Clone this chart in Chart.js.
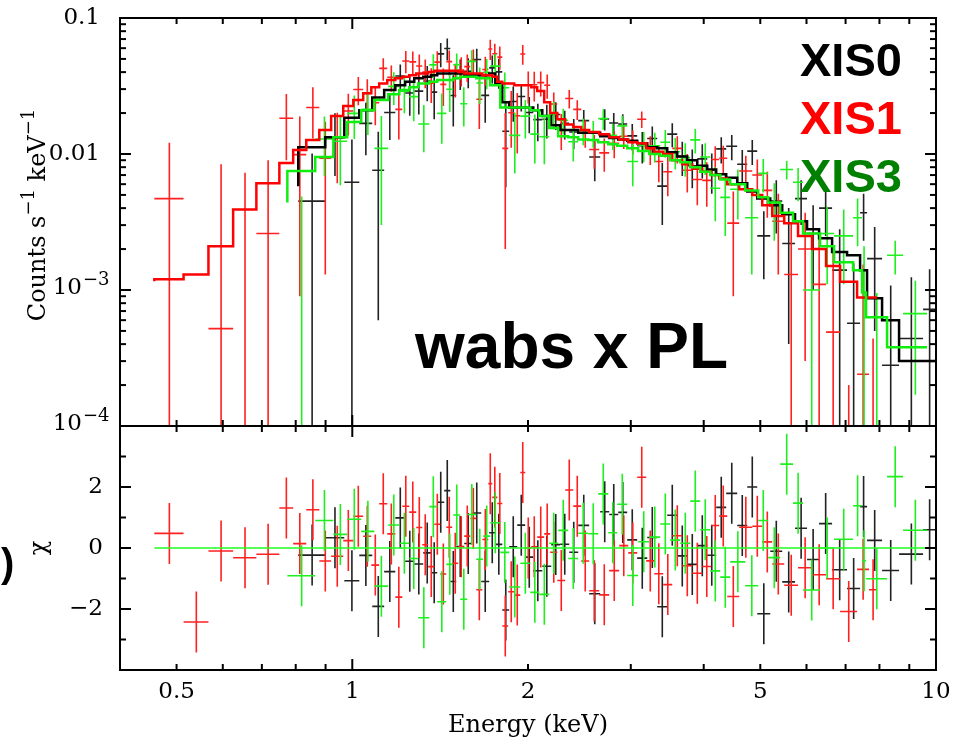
<!DOCTYPE html>
<html>
<head>
<meta charset="utf-8">
<script src="https://cdn.jsdelivr.net/npm/chart.js@4.4.0/dist/chart.umd.min.js"></script>
<style>
  html, body { margin: 0; padding: 0; background: #fff; }
  #wrap { position: relative; width: 960px; height: 739px; overflow: hidden; }
  #specCanvas { position: absolute; left: 0; top: 0; }
  #chiCanvas { position: absolute; left: 0; top: 420px; }
</style>
</head>
<body>
<div id="wrap">
  <canvas id="specCanvas" width="960" height="440"></canvas>
  <canvas id="chiCanvas" width="960" height="319"></canvas>
</div>
<script>
// XIS0 spectrum: bin edges (keV), rate (counts/s/keV), 1-sigma error, folded model
const xis0Edges = [0.808, 0.899, 0.969, 1.028, 1.082, 1.134, 1.185, 1.232, 1.277, 1.323, 1.365, 1.398, 1.437, 1.472, 1.507, 1.555, 1.605, 1.663, 1.716, 1.758, 1.807, 1.857, 1.917, 1.978, 2.042, 2.116, 2.192, 2.271, 2.353, 2.438, 2.546, 2.659, 2.755, 2.855, 2.958, 3.077, 3.201, 3.330, 3.464, 3.603, 3.748, 3.899, 4.056, 4.202, 4.371, 4.565, 4.749, 4.940, 5.200, 5.452, 5.735, 6.013, 6.305, 6.637, 7.041, 7.412, 7.619, 8.084, 8.644, 9.503, 10.0];
const xis0Rate = [4.5e-3, 0.0134, 0.0062, 0.0168, 0.0076, 0.0202, 0.0375, 0.0281, 0.0290, 0.0344, 0.0285, 0.0545, 0.0597, 0.0269, 0.0395, 0.0405, 0.0495, 0.0270, 0.0430, 0.0402, 0.0147, 0.0243, 0.0265, 0.0202, 0.0179, 0.0180, 0.0195, 0.0168, 0.0145, 0.0176, 0.0095, 0.0181, 0.0169, 0.0166, 0.0136, 0.0115, 0.0130, 0.0058, 0.0140, 0.0096, 0.0082, 0.0092, 0.0076, 0.0109, 0.0114, 0.0084, 0.0105, 0.0025, 0.0045, 0.0022, 0.0047, 0.0026, 0.0040, 0.0014, 0.00057, 0.0037, 0.0017, 0.00028, 0.00044, 0.00072];
const xis0Err = [5.6e-3, 6.5e-3, 6.6e-3, 7e-3, 7e-3, 7.5e-3, 8e-3, 9e-3, 9.5e-3, 1e-2, 1.05e-2, 1.1e-2, 1.1e-2, 1.1e-2, 1e-2, 1e-2, 1e-2, 1e-2, 1e-2, 1e-2, 9e-3, 7e-3, 6e-3, 6e-3, 5.5e-3, 5e-3, 4.5e-3, 4e-3, 3.6e-3, 3.5e-3, 3.2e-3, 3.2e-3, 3.1e-3, 3e-3, 3e-3, 3e-3, 2.9e-3, 2.8e-3, 2.8e-3, 2.7e-3, 2.6e-3, 2.6e-3, 2.5e-3, 2.4e-3, 2.4e-3, 2.3e-3, 2.2e-3, 1.3e-3, 1.9e-3, 1.8e-3, 1.7e-3, 1.6e-3, 1.5e-3, 1.4e-3, 1.0e-3, 1.4e-3, 1.2e-3, 8e-4, 8e-4, 7e-4];
const xis0Model = [5.8e-3, 0.0112, 0.0133, 0.0185, 0.021, 0.026, 0.0296, 0.032, 0.034, 0.036, 0.037, 0.038, 0.039, 0.039, 0.039, 0.039, 0.038, 0.038, 0.038, 0.039, 0.033, 0.024, 0.022, 0.022, 0.022, 0.021, 0.019, 0.0163, 0.015, 0.015, 0.0143, 0.0143, 0.0135, 0.0131, 0.0128, 0.0125, 0.0120, 0.0112, 0.0110, 0.0103, 0.0096, 0.0090, 0.0082, 0.0077, 0.0071, 0.0067, 0.0061, 0.0053, 0.0047, 0.0042, 0.0036, 0.0032, 0.0028, 0.0024, 0.0019, 0.0018, 0.0014, 0.00087, 0.0006, 0.0003];

// XIS1 spectrum
const xis1Edges = [0.458, 0.514, 0.567, 0.625, 0.685, 0.750, 0.792, 0.834, 0.878, 0.920, 0.965, 1.004, 1.044, 1.078, 1.112, 1.148, 1.185, 1.218, 1.252, 1.287, 1.318, 1.349, 1.382, 1.415, 1.449, 1.483, 1.519, 1.555, 1.593, 1.631, 1.670, 1.710, 1.737, 1.772, 1.807, 1.850, 1.894, 1.940, 1.978, 2.026, 2.074, 2.132, 2.183, 2.245, 2.316, 2.391, 2.467, 2.546, 2.649, 2.755, 2.866, 2.970, 3.077, 3.188, 3.291, 3.410, 3.533, 3.675, 3.823, 3.977, 4.120, 4.252, 4.389, 4.601, 4.844, 5.039, 5.241, 5.495, 5.803, 6.133, 6.481, 6.850, 7.325, 7.679, 7.926];
const xis1Rate = [4.7e-3, -1.47e-3, 5.2e-4, -3.3e-4, 2.6e-3, 0.0183, 0.0099, 0.0220, 0.0093, 0.0131, 0.0207, 0.0298, 0.0279, 0.0238, 0.0426, 0.0367, 0.0213, 0.0483, 0.0476, 0.0444, 0.0400, 0.0332, 0.0474, 0.0325, 0.0478, 0.0360, 0.0414, 0.0439, 0.0487, 0.0253, 0.0418, 0.0591, 0.0546, 0.0516, 0.0110, 0.0201, 0.0191, 0.0543, 0.0320, 0.0323, 0.0335, 0.0320, 0.0233, 0.0152, 0.0256, 0.0213, 0.0144, 0.0108, 0.0102, 0.0120, 0.0135, 0.0124, 0.0180, 0.0109, 0.0088, 0.0074, 0.0110, 0.0076, 0.0065, 0.0064, 0.0091, 0.0093, 0.0031, 0.0075, 0.0070, 0.0054, 0.0032, 0.0013, 0.0020, 0.0011, 0.00049, -0.0010, 0.00024, -0.00076];
const xis1Err = [7.4e-3, 1.1e-3, 7.9e-3, 7.6e-3, 6.4e-3, 9.3e-3, 9.0e-3, 9.0e-3, 8.0e-3, 7.0e-3, 7.0e-3, 7.0e-3, 7.5e-3, 7.5e-3, 8e-3, 8e-3, 8.5e-3, 9e-3, 9e-3, 9.5e-3, 9.5e-3, 9.5e-3, 9.5e-3, 1e-2, 1e-2, 1e-2, 1e-2, 1e-2, 1e-2, 1e-2, 1e-2, 1e-2, 1e-2, 1e-2, 9e-3, 9e-3, 9e-3, 9e-3, 8.5e-3, 8e-3, 7e-3, 6.5e-3, 5e-3, 4.5e-3, 4e-3, 3.5e-3, 3.3e-3, 3e-3, 2.8e-3, 2.7e-3, 2.6e-3, 2.5e-3, 2.5e-3, 2.6e-3, 2.6e-3, 2.5e-3, 2.5e-3, 2.4e-3, 2.3e-3, 2.3e-3, 2.3e-3, 2.2e-3, 2.2e-3, 2.2e-3, 2.1e-3, 2.0e-3, 1.9e-3, 1.8e-3, 1.7e-3, 1.6e-3, 1.5e-3, 1.2e-3, 1.3e-3, 1.2e-3];
const xis1Model = [1.16e-3, 1.2e-3, 1.3e-3, 2.1e-3, 3.9e-3, 6.1e-3, 8.6e-3, 0.0107, 0.0127, 0.015, 0.019, 0.0225, 0.025, 0.028, 0.031, 0.033, 0.035, 0.036, 0.037, 0.038, 0.039, 0.039, 0.040, 0.041, 0.041, 0.041, 0.041, 0.040, 0.039, 0.039, 0.039, 0.038, 0.038, 0.037, 0.034, 0.033, 0.033, 0.032, 0.032, 0.032, 0.031, 0.029, 0.024, 0.020, 0.018, 0.0165, 0.0158, 0.0150, 0.0145, 0.0140, 0.0133, 0.0128, 0.0122, 0.0120, 0.0110, 0.0104, 0.0100, 0.0090, 0.0084, 0.0078, 0.0074, 0.0070, 0.0066, 0.0060, 0.0055, 0.0050, 0.0042, 0.0035, 0.0031, 0.0025, 0.0020, 0.0015, 0.00115, 0.00088];

// XIS3 spectrum
const xis3Edges = [0.774, 0.864, 0.928, 0.980, 1.036, 1.091, 1.152, 1.204, 1.252, 1.297, 1.355, 1.398, 1.449, 1.489, 1.531, 1.574, 1.631, 1.676, 1.723, 1.793, 1.857, 1.940, 2.018, 2.091, 2.175, 2.253, 2.344, 2.438, 2.536, 2.638, 2.745, 2.844, 2.958, 3.089, 3.226, 3.370, 3.505, 3.646, 3.793, 3.945, 4.104, 4.269, 4.441, 4.712, 4.959, 5.159, 5.409, 5.690, 5.919, 6.330, 6.689, 7.210, 7.470, 7.589, 8.245, 8.782, 9.654];
const xis3Rate = [-3.3e-4, 0.0129, 0.0124, 0.0199, 0.0213, 0.0110, 0.0314, 0.0289, 0.0264, 0.0166, 0.0452, 0.0199, 0.0299, 0.0453, 0.0234, 0.0480, 0.0333, 0.0399, 0.0443, 0.0307, 0.0137, 0.0190, 0.0140, 0.0134, 0.0197, 0.0177, 0.0123, 0.0149, 0.0143, 0.0182, 0.0137, 0.0161, 0.0088, 0.0116, 0.0115, 0.0122, 0.0104, 0.0094, 0.0127, 0.0095, 0.0056, 0.0048, 0.0055, 0.0034, 0.0072, 0.0042, 0.0077, 0.0062, 0.0010, 0.0026, 0.0025, 0.0034, 0.0009, -0.00005, 0.0018, 0.00067];
const xis3Err = [5.2e-3, 6e-3, 6.5e-3, 7e-3, 7.5e-3, 8e-3, 8.5e-3, 9e-3, 9e-3, 6.3e-3, 9e-3, 8e-3, 9.5e-3, 9.5e-3, 7.5e-3, 1e-2, 1e-2, 1e-2, 1e-2, 9e-3, 6.5e-3, 6e-3, 5.5e-3, 5e-3, 4.5e-3, 3.8e-3, 3.5e-3, 3.3e-3, 3.2e-3, 3.1e-3, 3e-3, 3e-3, 3e-3, 2.9e-3, 2.8e-3, 2.8e-3, 2.7e-3, 2.6e-3, 2.6e-3, 2.5e-3, 2.4e-3, 2.3e-3, 2.2e-3, 2.1e-3, 2e-3, 1.9e-3, 1.2e-3, 1.7e-3, 1.6e-3, 1.5e-3, 1.4e-3, 1.3e-3, 1.2e-3, 1e-3, 5e-4, 5e-4];
const xis3Model = [4.4e-3, 7.5e-3, 9.5e-3, 0.0133, 0.0172, 0.021, 0.025, 0.0275, 0.0295, 0.031, 0.033, 0.034, 0.035, 0.035, 0.036, 0.037, 0.037, 0.036, 0.036, 0.032, 0.022, 0.022, 0.022, 0.021, 0.019, 0.0155, 0.0135, 0.0133, 0.0128, 0.0127, 0.0122, 0.0118, 0.0115, 0.0110, 0.0105, 0.0100, 0.0097, 0.0090, 0.0087, 0.0080, 0.0074, 0.0070, 0.0065, 0.0060, 0.0054, 0.0048, 0.0044, 0.0037, 0.0032, 0.0026, 0.0021, 0.0016, 0.0014, 0.00096, 0.00063, 0.00038];

// axis ticks and labels
const energyMajorTicks = [1, 10];
const energyMinorTicks = [0.5, 0.6, 0.7, 0.8, 0.9, 2, 3, 4, 5, 6, 7, 8, 9];
const energyLabelValues = [0.5, 1, 2, 5, 10];
const energyTickLabels = ['0.5', '1', '2', '5', '10'];
const countMajorTicks = [1e-4, 1e-3, 0.01, 0.1];
const countTickLabels = [['10', '−4'], ['10', '−3'], ['0.01', ''], ['0.1', '']];
const chiMajorTicks = [-2, 0, 2];
const chiMinorTicks = [-3, -1, 1, 3];
const chiTickLabels = ['−2', '0', '2'];

const countMinorTicks = [];
countMajorTicks.slice(0, -1).forEach(d => {
    for (let k = 2; k <= 9; k++) countMinorTicks.push(d * k);
});

const instruments = [
    { name: 'XIS0', edges: xis0Edges, rate: xis0Rate, err: xis0Err, model: xis0Model, line: '#000000', bar: '#222222', text: '#000000', order: 2 },
    { name: 'XIS1', edges: xis1Edges, rate: xis1Rate, err: xis1Err, model: xis1Model, line: '#ff0000', bar: '#ff2020', text: '#ff0000', order: 1 },
    { name: 'XIS3', edges: xis3Edges, rate: xis3Rate, err: xis3Err, model: xis3Model, line: '#10ee10', bar: '#1fef1f', text: '#008000', order: 0 }
];

const SERIF = '"DejaVu Serif", serif';
const SANS = '"Liberation Sans", Arial, sans-serif';

// one cross per bin: horizontal = bin width, vertical = +/- error
function binPoints(inst) {
    return inst.rate.map((r, i) => {
        const lo = inst.edges[i], hi = inst.edges[i + 1];
        return { x: (lo + hi) / 2, y: r, lo: lo, hi: hi, err: inst.err[i] };
    });
}

// residuals in units of sigma, error bars of one sigma
function chiPoints(inst) {
    return inst.rate.map((r, i) => {
        const lo = inst.edges[i], hi = inst.edges[i + 1];
        return { x: (lo + hi) / 2, y: (r - inst.model[i]) / inst.err[i], lo: lo, hi: hi, err: 1 };
    });
}

// histogram of the folded model
function stepPoints(inst) {
    const pts = inst.model.map((m, i) => ({ x: inst.edges[i], y: m }));
    pts.push({ x: inst.edges[inst.edges.length - 1], y: inst.model[inst.model.length - 1] });
    return pts;
}

const errorBarPlugin = {
    id: 'errorBars',
    beforeDatasetsDraw(chart) {
        const { ctx, chartArea: a, scales: { x, y } } = chart;
        const isLog = y.type === 'logarithmic';
        ctx.save();
        ctx.beginPath();
        ctx.rect(a.left, a.top, a.right - a.left, a.bottom - a.top);
        ctx.clip();
        ctx.lineWidth = 1.6;
        chart.data.datasets.forEach(ds => {
            if (!ds.errorBars) return;
            ctx.strokeStyle = ds.barColor;
            ds.data.forEach(p => {
                const up = p.y + p.err, down = p.y - p.err;
                if (isLog && up <= 0) return;
                const px = x.getPixelForValue(p.x);
                const yUp = y.getPixelForValue(up);
                const yDown = (!isLog || down > 0) ? y.getPixelForValue(down) : a.bottom + 4;
                ctx.beginPath();
                ctx.moveTo(px, yUp);
                ctx.lineTo(px, yDown);
                if (!isLog || p.y > 0) {
                    const py = y.getPixelForValue(p.y);
                    ctx.moveTo(x.getPixelForValue(p.lo), py);
                    ctx.lineTo(x.getPixelForValue(p.hi), py);
                }
                ctx.stroke();
            });
        });
        ctx.restore();
    }
};

// box round the plot with inward ticks on all four sides
const framePlugin = {
    id: 'frame',
    afterDatasetsDraw(chart, args, opts) {
        const { ctx, chartArea: a, scales: { x, y } } = chart;
        ctx.save();
        ctx.strokeStyle = '#000';
        ctx.lineWidth = 2;
        ctx.strokeRect(a.left, a.top, a.right - a.left, a.bottom - a.top);
        const seg = (x1, y1, x2, y2) => {
            ctx.beginPath();
            ctx.moveTo(x1, y1);
            ctx.lineTo(x2, y2);
            ctx.stroke();
        };
        const xTicks = (vals, len) => vals.forEach(v => {
            const px = x.getPixelForValue(v);
            seg(px, a.top, px, a.top + len);
            seg(px, a.bottom, px, a.bottom - len);
        });
        const yTicks = (vals, len) => vals.forEach(v => {
            const py = y.getPixelForValue(v);
            seg(a.left, py, a.left + len, py);
            seg(a.right, py, a.right - len, py);
        });
        xTicks(energyMajorTicks, 11);
        xTicks(energyMinorTicks, 6);
        yTicks(opts.yMajor, 11);
        yTicks(opts.yMinor, 6);
        ctx.restore();
    }
};

const specTextPlugin = {
    id: 'specText',
    afterDraw(chart) {
        const { ctx, chartArea: a, scales: { y } } = chart;
        ctx.save();
        ctx.fillStyle = '#000';
        ctx.textBaseline = 'middle';
        countMajorTicks.forEach((v, i) => {
            const py = y.getPixelForValue(v);
            const [base, exp] = countTickLabels[i];
            ctx.font = '23px ' + SERIF;
            if (!exp) {
                ctx.textAlign = 'right';
                ctx.fillText(base, a.left - 20, py);
            } else {
                ctx.textAlign = 'right';
                ctx.fillText(base, a.left - 38, py - 2);
                ctx.font = '18px ' + SERIF;
                ctx.textAlign = 'left';
                ctx.fillText(exp, a.left - 37, py - 10);
            }
        });

        // rotated y title with superscripts
        ctx.save();
        ctx.translate(45, (a.top + a.bottom) / 2 - 7);
        ctx.rotate(-Math.PI / 2);
        ctx.textBaseline = 'alphabetic';
        ctx.textAlign = 'left';
        const parts = [['Counts s', 24, 0], ['−1', 18, -11], [' keV', 24, 0], ['−1', 18, -11]];
        let total = 0;
        parts.forEach(p => { ctx.font = p[1] + 'px ' + SERIF; total += ctx.measureText(p[0]).width; });
        let cx = -total / 2;
        parts.forEach(p => {
            ctx.font = p[1] + 'px ' + SERIF;
            ctx.fillText(p[0], cx, p[2]);
            cx += ctx.measureText(p[0]).width;
        });
        ctx.restore();

        // model name and instrument labels
        ctx.textBaseline = 'alphabetic';
        ctx.textAlign = 'left';
        ctx.font = 'bold 64px ' + SANS;
        ctx.fillStyle = '#000';
        ctx.fillText('wabs x PL', 415, 368);
        ctx.font = 'bold 47px ' + SANS;
        instruments.forEach((inst, i) => {
            ctx.fillStyle = inst.text;
            ctx.fillText(inst.name, 800, 76 + i * 58);
        });
        ctx.restore();
    }
};

const chiTextPlugin = {
    id: 'chiText',
    afterDraw(chart) {
        const { ctx, chartArea: a, scales: { x, y } } = chart;
        ctx.save();
        ctx.fillStyle = '#000';
        ctx.font = '23px ' + SERIF;
        ctx.textBaseline = 'middle';
        ctx.textAlign = 'right';
        chiMajorTicks.forEach((v, i) => ctx.fillText(chiTickLabels[i], a.left - 17, y.getPixelForValue(v)));
        ctx.textAlign = 'center';
        energyLabelValues.forEach((v, i) => ctx.fillText(energyTickLabels[i], x.getPixelForValue(v), a.bottom + 22));
        ctx.font = '24px ' + SERIF;
        ctx.textBaseline = 'alphabetic';
        ctx.fillText('Energy (keV)', (a.left + a.right) / 2, a.bottom + 62);

        ctx.save();
        ctx.translate(46, (a.top + a.bottom) / 2);
        ctx.rotate(-Math.PI / 2);
        ctx.textAlign = 'center';
        ctx.fillText('χ', 0, 0);
        ctx.restore();

        ctx.font = 'bold 40px ' + SANS;
        ctx.textAlign = 'left';
        ctx.textBaseline = 'middle';
        ctx.fillText(')', 1, 146);
        ctx.restore();
    }
};

// upper panel: spectra and models
const specDatasets = [];
instruments.forEach(inst => {
    specDatasets.push({
        label: inst.name + ' model',
        data: stepPoints(inst),
        showLine: true,
        stepped: 'after',
        borderColor: inst.line,
        borderWidth: 2.5,
        pointRadius: 0,
        fill: false,
        order: inst.order
    });
    specDatasets.push({
        label: inst.name,
        data: binPoints(inst),
        pointRadius: 0,
        errorBars: true,
        barColor: inst.bar,
        order: inst.order + 3
    });
});

const specChart = new Chart(document.getElementById('specCanvas'), {
    type: 'scatter',
    data: { datasets: specDatasets },
    options: {
        responsive: false,
        animation: false,
        devicePixelRatio: 1,
        events: [],
        layout: { padding: { left: 120, right: 24, top: 18, bottom: 14 } },
        scales: {
            x: { type: 'logarithmic', min: 0.4, max: 10, display: false },
            y: { type: 'logarithmic', min: 1e-4, max: 0.1, display: false }
        },
        plugins: {
            legend: { display: false },
            tooltip: { enabled: false },
            frame: { yMajor: countMajorTicks, yMinor: countMinorTicks }
        }
    },
    plugins: [errorBarPlugin, framePlugin, specTextPlugin]
});

// lower panel: residuals
const chiDatasets = [{
    label: 'zero',
    data: [{ x: xis1Edges[0], y: 0 }, { x: 10, y: 0 }],
    showLine: true,
    borderColor: '#22ff22',
    borderWidth: 1.5,
    pointRadius: 0
}];
instruments.forEach(inst => {
    chiDatasets.push({
        label: inst.name,
        data: chiPoints(inst),
        pointRadius: 0,
        errorBars: true,
        barColor: inst.bar
    });
});

const chiChart = new Chart(document.getElementById('chiCanvas'), {
    type: 'scatter',
    data: { datasets: chiDatasets },
    options: {
        responsive: false,
        animation: false,
        devicePixelRatio: 1,
        events: [],
        layout: { padding: { left: 120, right: 24, top: 6, bottom: 69 } },
        scales: {
            x: { type: 'logarithmic', min: 0.4, max: 10, display: false },
            y: { type: 'linear', min: -4, max: 4, display: false }
        },
        plugins: {
            legend: { display: false },
            tooltip: { enabled: false },
            frame: { yMajor: chiMajorTicks, yMinor: chiMinorTicks }
        }
    },
    plugins: [errorBarPlugin, framePlugin, chiTextPlugin]
});
</script>
</body>
</html>
